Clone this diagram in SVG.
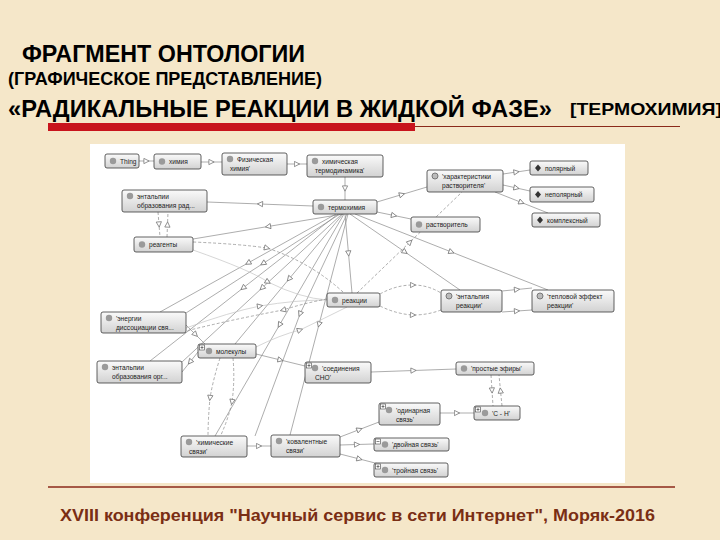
<svg xmlns="http://www.w3.org/2000/svg" width="720" height="540" viewBox="0 0 720 540">
<defs>
<linearGradient id="ng" x1="0" y1="0" x2="0" y2="1">
<stop offset="0" stop-color="#fafafa"/><stop offset="1" stop-color="#d2d2d2"/>
</linearGradient>
<marker id="tri" viewBox="0 0 8 8" refX="4" refY="4" markerWidth="7" markerHeight="7" orient="auto" markerUnits="userSpaceOnUse">
<path d="M1,1 L7,4 L1,7 Z" fill="#fff" stroke="#777" stroke-width="0.9"/>
</marker>
<style>
.hdr{font-family:"Liberation Sans",Arial,sans-serif;font-weight:bold;fill:#000}
.ft{font-family:"Liberation Sans",Arial,sans-serif;font-weight:bold;fill:#7a2e14}
.nb{fill:url(#ng);stroke:#3a3a3a;stroke-width:0.8}
.nt{font-family:"Liberation Sans",Arial,sans-serif;font-size:6.6px;fill:#222}
.dot{fill:#9a9a9a}
.dotd{fill:#bbb;stroke:#777;stroke-width:1}
.ind{fill:#333}
.pl{fill:#fff;stroke:#444;stroke-width:0.6}
.c{fill:none;stroke:#8a8a8a;stroke-width:0.7;marker-mid:url(#tri)}
.cd{fill:none;stroke:#8a8a8a;stroke-width:0.7;stroke-dasharray:3 2;marker-mid:url(#tri)}
.cl{fill:none;stroke:#c4c4c4;stroke-width:0.7;marker-mid:url(#tri)}
</style>
</defs>
<rect width="720" height="540" fill="#f5e7c9"/>
<text class="hdr" x="22" y="62" font-size="23" textLength="283" lengthAdjust="spacingAndGlyphs">ФРАГМЕНТ ОНТОЛОГИИ</text>
<text class="hdr" x="8" y="85" font-size="18" textLength="314" lengthAdjust="spacingAndGlyphs">(ГРАФИЧЕСКОЕ ПРЕДСТАВЛЕНИЕ)</text>
<text class="hdr" x="8" y="117" font-size="23" textLength="544" lengthAdjust="spacingAndGlyphs">«РАДИКАЛЬНЫЕ РЕАКЦИИ В ЖИДКОЙ ФАЗЕ»</text>
<text class="hdr" x="570" y="115" font-size="17" textLength="152" lengthAdjust="spacingAndGlyphs">[ТЕРМОХИМИЯ]</text>
<rect x="48" y="123" width="367" height="8" fill="#c8141c"/>
<line x1="415" y1="126.5" x2="680" y2="126.5" stroke="#8b2a1a" stroke-width="1.2"/>
<rect x="90" y="144" width="535" height="339" fill="#fff"/>
<line x1="48" y1="487" x2="675" y2="487" stroke="#8b2a1a" stroke-width="1.5"/>
<text class="ft" x="60" y="521" font-size="16" textLength="595" lengthAdjust="spacingAndGlyphs">XVIII конференция "Научный сервис в сети Интернет", Моряк-2016</text>

<g id="connectors">
<polyline class="c" points="139,161 146.5,161 154,161"/>
<polyline class="c" points="201,162 211.5,162 222,162"/>
<polyline class="c" points="287,164 297,164 307,164"/>
<polyline class="c" points="345,177 345,188.5 345,200"/>
<polyline class="c" points="377,202 402,194.5 427,187"/>
<polyline class="c" points="503,174 516.5,172 530,170"/>
<polyline class="c" points="503,185 516.5,188 530,191"/>
<polyline class="c" points="495,192 521.5,202.5 548,213"/>
<polyline class="c" points="377,212 394,215.5 411,219"/>
<polyline class="c" points="313,206 260,204 207,202"/>
<polyline class="c" points="343,214 268,226.5 193,239"/>
<polyline class="c" points="345,214 348.5,253.5 352,293"/>
<polyline class="c" points="350,214 405,252 460,290"/>
<polyline class="c" points="355,214 451.5,252 548,290"/>
<polyline class="c" points="340,214 263,263.5 186,313"/>
<polyline class="c" points="342,214 262,288 182,362"/>
<polyline class="c" points="343,214 289,279 235,344"/>
<polyline class="c" points="344,214 279.5,325 215,436"/>
<polyline class="c" points="347,214 300,314 255,436"/>
<polyline class="c" points="348,214 319,324.5 290,435"/>
<polyline class="c" points="338,214 243,288 150,361"/>
<polyline class="c" points="336,214 248,263 160,312"/>
<polyline class="c" points="247,446 259,446 271,446"/>
<polyline class="c" points="340,437 359.5,429.5 379,422"/>
<polyline class="c" points="340,445 357,444.5 374,444"/>
<polyline class="c" points="340,454 359.5,459 379,464"/>
<polyline class="c" points="440,413 457,413 474,413"/>
<polyline class="c" points="371,372 413.5,370.5 456,369"/>
<polyline class="c" points="256,354 280.5,360 305,366"/>
<polyline class="c" points="502,291 517,289.5 532,288"/>
<polyline class="c" points="502,312 517,311 532,310"/>
<polyline class="c" points="186,325 195.5,334.5 205,344"/>
<polyline class="c" points="198,352 190,362 182,372"/>
<path class="cl" d="M256,347 Q280,335 300,330 Q325,318 347,307"/>
<path class="cl" d="M193,250 Q250,270 268,282 Q300,298 327,300"/>
<path class="cl" d="M186,328 Q230,312 260,306 Q295,300 327,300"/>
<polyline class="cd" points="158,212 159,224.5 160,237"/>
<polyline class="cd" points="167,237 167.5,224.5 168,212"/>
<polyline class="cd" points="491,375 492,390.5 493,406"/>
<polyline class="cd" points="502,406 500.5,390.5 499,375"/>
<path class="cd" d="M220,358 Q213,380 210,398 Q208,420 208,437"/>
<path class="cd" d="M233,358 Q235,380 232,402 Q228,420 220,437"/>
<path class="cd" d="M380,294 Q396,285 413,285 Q428,285 441,293"/>
<path class="cd" d="M380,306 Q396,314 413,315 Q428,315 441,310"/>
<polyline class="cd" points="357,293 410,242 462,192"/>
<path class="cd" d="M193,242 Q240,244 267,248 Q310,262 343,292"/>
<path class="cd" d="M327,299 Q305,303 283,310 Q230,320 186,331"/>
</g>

<g id="n-thing"><rect class="nb" x="105" y="154" width="34" height="14" rx="2"/><circle class="dot" cx="113" cy="161" r="3.2"/><text class="nt" x="120" y="163.5">Thing</text></g>
<g id="n-himiya"><rect class="nb" x="154" y="154" width="47" height="15" rx="2"/><circle class="dot" cx="162" cy="161.5" r="3.2"/><text class="nt" x="169" y="164">химия</text></g>
<g id="n-fiz"><rect class="nb" x="222" y="153" width="65" height="22" rx="2"/><circle class="dot" cx="230" cy="159" r="3.2"/><text class="nt" x="237" y="161.5">Физическая</text><text class="nt" x="230" y="170.5">химия'</text></g>
<g id="n-htd"><rect class="nb" x="307" y="155" width="76" height="22" rx="2"/><circle class="dot" cx="315" cy="161" r="3.2"/><text class="nt" x="322" y="163.5">химическая</text><text class="nt" x="315" y="172.5">термодинамика'</text></g>
<g id="n-har"><rect class="nb" x="427" y="170" width="76" height="22" rx="2"/><circle class="dotd" cx="435" cy="176" r="3"/><text class="nt" x="442" y="178.5">'характеристики</text><text class="nt" x="442" y="187.5">растворителя'</text></g>
<g id="n-pol"><rect class="nb" x="530" y="161" width="58" height="14" rx="2"/><path class="ind" d="M538,164.5 L541,168 L538,171.5 L535,168 Z"/><text class="nt" x="545" y="170.5">полярный</text></g>
<g id="n-nepol"><rect class="nb" x="530" y="187" width="64" height="15" rx="2"/><path class="ind" d="M538,191 L541,194.5 L538,198 L535,194.5 Z"/><text class="nt" x="545" y="197">неполярный</text></g>
<g id="n-kompl"><rect class="nb" x="532" y="213" width="68" height="14" rx="2"/><path class="ind" d="M540,216.5 L543,220 L540,223.5 L537,220 Z"/><text class="nt" x="547" y="222.5">комплексный</text></g>
<g id="n-entrad"><rect class="nb" x="122" y="190" width="85" height="22" rx="2"/><circle class="dot" cx="130" cy="196" r="3.2"/><text class="nt" x="137" y="198.5">энтальпии</text><text class="nt" x="137" y="207.5">образования рад...</text></g>
<g id="n-termo"><rect class="nb" x="313" y="200" width="64" height="14" rx="2"/><circle class="dot" cx="321" cy="207" r="3.2"/><text class="nt" x="328" y="209.5">термохимия</text></g>
<g id="n-rastv"><rect class="nb" x="411" y="217" width="69" height="15" rx="2"/><circle class="dot" cx="419" cy="224.5" r="3.2"/><text class="nt" x="426" y="227">растворитель</text></g>
<g id="n-reag"><rect class="nb" x="134" y="237" width="59" height="15" rx="2"/><circle class="dot" cx="142" cy="244.5" r="3.2"/><text class="nt" x="149" y="247">реагенты</text></g>
<g id="n-reak"><rect class="nb" x="327" y="293" width="53" height="14" rx="2"/><circle class="dot" cx="335" cy="300" r="3.2"/><text class="nt" x="342" y="302.5">реакции</text></g>
<g id="n-entreak"><rect class="nb" x="441" y="290" width="61" height="22" rx="2"/><circle class="dotd" cx="449" cy="296" r="3"/><text class="nt" x="456" y="298.5">'энтальпия</text><text class="nt" x="456" y="307.5">реакции'</text></g>
<g id="n-teplo"><rect class="nb" x="532" y="290" width="82" height="22" rx="2"/><circle class="dotd" cx="540" cy="296" r="3"/><text class="nt" x="547" y="298.5">'тепловой эффект</text><text class="nt" x="547" y="307.5">реакции'</text></g>
<g id="n-endis"><rect class="nb" x="101" y="312" width="85" height="21" rx="2"/><circle class="dot" cx="109" cy="318" r="3.2"/><text class="nt" x="116" y="320.5">'энергии</text><text class="nt" x="116" y="329.5">диссоциации свя...</text></g>
<g id="n-mol"><rect class="nb" x="198" y="344" width="58" height="14" rx="2"/><rect class="pl" x="199.5" y="345" width="5" height="5"/><path d="M200.5,347.5 H203.5 M202,346 V349" stroke="#333" stroke-width="0.6"/><circle class="dot" cx="209" cy="351" r="3.2"/><text class="nt" x="216" y="353.5">молекулы</text></g>
<g id="n-entorg"><rect class="nb" x="97" y="361" width="85" height="22" rx="2"/><circle class="dot" cx="105" cy="367" r="3.2"/><text class="nt" x="112" y="369.5">энтальпии</text><text class="nt" x="112" y="378.5">образования орг...</text></g>
<g id="n-sno"><rect class="nb" x="305" y="362" width="66" height="21" rx="2"/><rect class="pl" x="306.5" y="363" width="5" height="5"/><path d="M307.5,365.5 H310.5 M309,364 V367" stroke="#333" stroke-width="0.6"/><circle class="dot" cx="315" cy="368" r="3.2"/><text class="nt" x="322" y="370.5">'соединения</text><text class="nt" x="315" y="379.5">СНО'</text></g>
<g id="n-efir"><rect class="nb" x="456" y="362" width="78" height="13" rx="2"/><circle class="dot" cx="464" cy="368.5" r="3.2"/><text class="nt" x="471" y="371">'простые эфиры'</text></g>
<g id="n-odin"><rect class="nb" x="379" y="403" width="61" height="22" rx="2"/><rect class="pl" x="380.5" y="404" width="5" height="5"/><path d="M381.5,406.5 H384.5 M383,405 V408" stroke="#333" stroke-width="0.6"/><circle class="dot" cx="389" cy="410" r="3.2"/><text class="nt" x="396" y="412.5">'одинарная</text><text class="nt" x="396" y="421.5">связь'</text></g>
<g id="n-ch"><rect class="nb" x="474" y="406" width="46" height="14" rx="2"/><rect class="pl" x="475.5" y="407" width="5" height="5"/><path d="M476.5,409.5 H479.5 M478,408 V411" stroke="#333" stroke-width="0.6"/><circle class="dot" cx="485" cy="413" r="3.2"/><text class="nt" x="492" y="415.5">'C - H'</text></g>
<g id="n-himsv"><rect class="nb" x="181" y="436" width="66" height="21" rx="2"/><circle class="dot" cx="189" cy="442" r="3.2"/><text class="nt" x="196" y="444.5">'химические</text><text class="nt" x="189" y="453.5">связи'</text></g>
<g id="n-koval"><rect class="nb" x="271" y="435" width="69" height="22" rx="2"/><circle class="dot" cx="279" cy="441" r="3.2"/><text class="nt" x="286" y="443.5">'ковалентные</text><text class="nt" x="286" y="452.5">связи'</text></g>
<g id="n-dvoi"><rect class="nb" x="374" y="438" width="75" height="13" rx="2"/><rect class="pl" x="375.5" y="439" width="5" height="5"/><path d="M376.5,441.5 H379.5" stroke="#333" stroke-width="0.6"/><circle class="dot" cx="385" cy="444.5" r="3.2"/><text class="nt" x="392" y="447">'двойная связь'</text></g>
<g id="n-troin"><rect class="nb" x="374" y="463" width="74" height="14" rx="2"/><rect class="pl" x="375.5" y="464" width="5" height="5"/><path d="M376.5,466.5 H379.5 M378,465 V468" stroke="#333" stroke-width="0.6"/><circle class="dot" cx="385" cy="470" r="3.2"/><text class="nt" x="392" y="472.5">'тройная связь'</text></g>
</svg>
